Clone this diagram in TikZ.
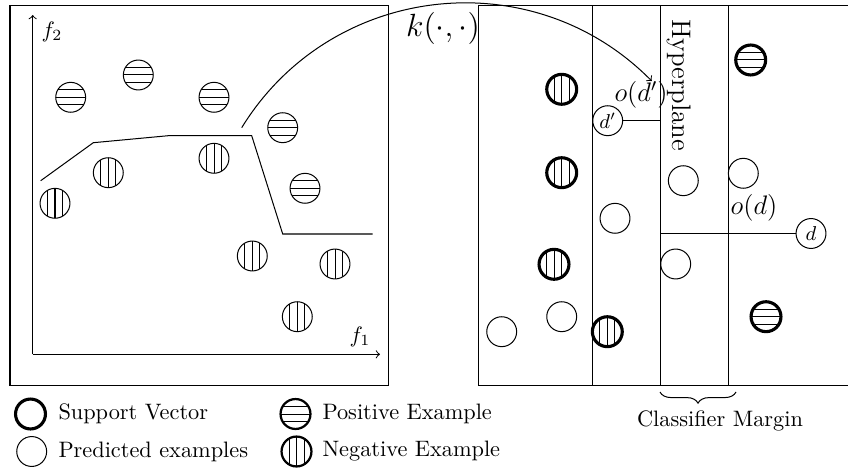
\documentclass[tikz,border=0pt]{standalone}
\usetikzlibrary{decorations.pathreplacing}
\begin{document}
\begin{tikzpicture}[x=0.448pt,y=-0.448pt,line width=0.45pt,
 ptc/.style={circle,draw,minimum size=13.4pt,inner sep=0pt,line width=0.45pt},
 svc/.style={ptc,line width=1.4pt},
 hstripes/.style={path picture={\foreach \o in {-3.36,0,3.36}{\draw[line width=0.45pt] ([yshift=\o pt]path picture bounding box.west) -- ([yshift=\o pt]path picture bounding box.east);}}},
 vstripes/.style={path picture={\foreach \o in {-3.36,0,3.36}{\draw[line width=0.45pt] ([xshift=\o pt]path picture bounding box.north) -- ([xshift=\o pt]path picture bounding box.south);}}},
 posex/.style={ptc,hstripes}, negex/.style={ptc,vstripes},
 svpos/.style={svc,hstripes}, svneg/.style={svc,vstripes},
 lbl/.style={anchor=west,inner sep=0pt}]
\useasboundingbox (0,0) rectangle (848,470);
% left panel
\draw (10,6) rectangle (388,385);
\coordinate (O) at (32.7,354.3);
\coordinate (yend) at (32.7,15);
\coordinate (xend) at (380,354.3);
\draw[->] (O) -- (yend);
\draw[->] (O) -- (xend);
\node (f2) at (52,32) {$f_2$};
\node (f1) at (360,337) {$f_1$};
\node[posex] (p1) at (70.7,97.3) {};
\node[posex] (p2) at (138.3,75) {};
\node[posex] (p3) at (214,97.3) {};
\node[posex] (p4) at (282.7,127.7) {};
\node[posex] (p5) at (305,188.3) {};
\node[negex] (n1) at (55,203.3) {};
\node[negex] (n2) at (108.3,172.7) {};
\node[negex] (n3) at (214,158.3) {};
\node[negex] (n4) at (252.3,256) {};
\node[negex] (n5) at (335,264) {};
\node[negex] (n6) at (297.3,316.7) {};
\draw (40.7,180.7) -- (93.3,142.7) -- (168.3,135.7) -- (251.7,135.7) -- (282.7,234) -- (372.7,234);
% kernel map
\coordinate (ks) at (241.7,127.7);
\coordinate (ke) at (651.7,81);
\draw[->] (ks) .. controls (330.7,-17.1) and (532.3,-40) .. (ke);
\node[font=\Large] (k) at (443,28) {$k(\cdot,\cdot)$};
% right panel
\draw (848,6) -- (478.3,6) -- (478.3,385) -- (848,385);
\coordinate (m1) at (592.7,6);
\coordinate (hp) at (660.7,6);
\coordinate (m2) at (728.5,6);
\draw (m1) -- (592.7,385);
\draw (hp) -- (660.7,385);
\draw (m2) -- (728.5,385);
\node[rotate=-90,font=\large] (hyp) at (679,85) {Hyperplane};
\node[svneg] (s1) at (561.7,89.3) {};
\node[svneg] (s2) at (561.7,172.7) {};
\node[svneg] (s3) at (554,264.3) {};
\node[svneg] (s4) at (607.3,331.7) {};
\node[svpos] (s5) at (750.7,60) {};
\node[svpos] (s6) at (766,316.7) {};
\node[ptc] (q1) at (501.7,331.7) {};
\node[ptc] (q2) at (561.7,316.7) {};
\node[ptc] (q3) at (615,218.3) {};
\node[ptc] (q4) at (683.3,180.7) {};
\node[ptc] (q5) at (743.3,173.3) {};
\node[ptc] (q6) at (675.7,264) {};
\node[ptc,font=\small] (dp) at (607.7,120.7) {$d'$};
\node[ptc,font=\small] (d) at (811,233.5) {$d$};
\draw (dp.east) -- (dp.east -| hp);
\draw (d.west) -- (d.west -| hp);
\node[font=\large] (odp) at (641,95) {$o(d')$};
\node[font=\large] (od) at (754,208) {$o(d)$};
% margin brace
\coordinate (bl) at (660,392);
\coordinate (br) at (736,392);
\draw[decorate,decoration={brace,amplitude=5pt,mirror}] (bl) -- (br);
\node (cm) at (720,421) {Classifier Margin};
% legend
\node[svc] (lsv) at (30.5,414) {};
\node[lbl] (tsv) at (58,414) {Support Vector};
\node[ptc] (lpr) at (31.7,451.5) {};
\node[lbl] (tpr) at (58,451.5) {Predicted examples};
\node[posex,line width=1pt] (lpo) at (295.5,414) {};
\node[lbl] (tpo) at (322,414) {Positive Example};
\node[negex,line width=1pt] (lne) at (296.5,451.5) {};
\node[lbl] (tne) at (322,451.5) {Negative Example};
\end{tikzpicture}
\end{document}
